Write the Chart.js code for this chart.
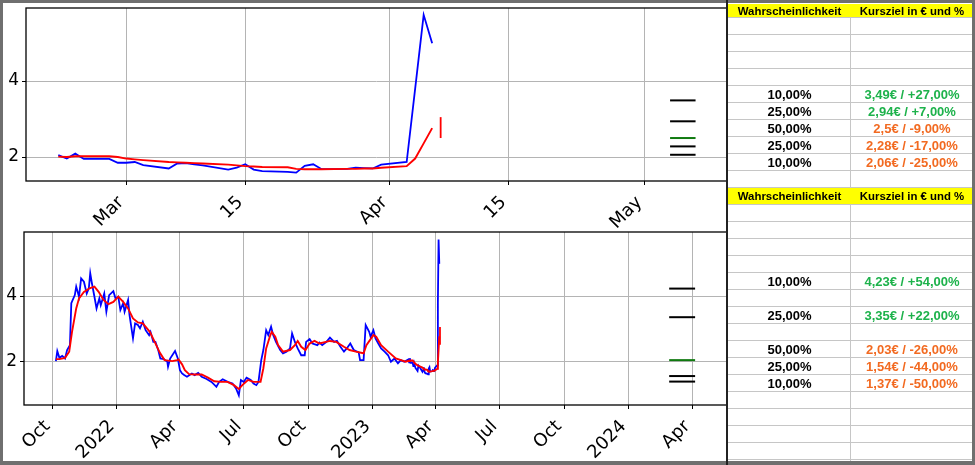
<!DOCTYPE html>
<html>
<head>
<meta charset="utf-8">
<script src="https://cdn.jsdelivr.net/npm/chart.js@4.4.1/dist/chart.umd.min.js"></script>
<style>
html, body { margin: 0; padding: 0; background: #fff; }
#page { position: relative; width: 975px; height: 465px; overflow: hidden; background: #fff; }
canvas { position: absolute; left: 0; }
#topChart { top: 0; }
#bottomChart { top: 228px; }
.bar { position: absolute; background: #6f6f6f; }
#tables { position: absolute; left: 728px; top: 0; width: 245px; height: 465px;
          font-family: 'Liberation Sans', Arial, sans-serif; font-weight: bold; }
.row { position: absolute; left: 0; width: 245px; border-bottom: 1px solid #c6c6c6; box-sizing: border-box; }
.row div { position: absolute; top: 0; height: 100%; display: flex; align-items: center; justify-content: center; white-space: nowrap; }
.c1 { left: 0; width: 123px; }
.c2 { left: 123px; width: 122px; }
.head { background: #ffff00; font-size: 11.4px; color: #000; }
.val { font-size: 13px; color: #000; }
#colLine { position: absolute; left: 122px; top: 4px; width: 1px; height: 457px; background: #c6c6c6; }
</style>
</head>
<body>
<div id="page">
  <canvas id="topChart" width="730" height="228"></canvas>
  <canvas id="bottomChart" width="730" height="237"></canvas>
  <div id="tables"><div id="colLine"></div></div>
  <div class="bar" style="left:0;top:0;width:3px;height:465px"></div>
  <div class="bar" style="left:0;top:0;width:975px;height:3px"></div>
  <div class="bar" style="left:0;top:461px;width:975px;height:4px"></div>
  <div class="bar" style="left:972px;top:0;width:3px;height:465px"></div>
  <div class="bar" style="left:726px;top:0;width:2px;height:465px;background:#222"></div>
</div>
<script>
// ---- data ----

// last weeks (upper chart), also the tail of the lower chart
var recentDates = ['2023-02-21','2023-02-22','2023-02-23','2023-02-24','2023-02-27','2023-02-28',
  '2023-03-01','2023-03-02','2023-03-03','2023-03-06','2023-03-07','2023-03-08','2023-03-09','2023-03-10',
  '2023-03-13','2023-03-14','2023-03-15','2023-03-16','2023-03-17','2023-03-20','2023-03-21','2023-03-22',
  '2023-03-23','2023-03-24','2023-03-27','2023-03-28','2023-03-29','2023-03-30','2023-03-31',
  '2023-04-03','2023-04-04','2023-04-05','2023-04-06'];
var recentPrice = [2.05,1.96,2.09,1.95,1.95,1.85,1.85,1.87,1.79,1.70,1.83,1.84,1.81,1.78,
  1.67,1.72,1.81,1.67,1.63,1.61,1.59,1.77,1.81,1.68,1.69,1.72,1.71,1.70,1.80,1.87,3.80,5.74,4.99];
var recentAvg = [2.01,2.00,2.02,2.02,2.02,2.00,1.96,1.94,1.92,1.87,1.86,1.85,1.84,1.83,
  1.80,1.78,1.76,1.75,1.74,1.73,1.69,1.68,1.68,1.68,1.69,1.69,1.70,1.70,1.72,1.76,1.96,2.36,2.76];

// history before that (lower chart)
var historyDates = ['2021-10-06','2021-10-08','2021-10-11','2021-10-15','2021-10-19','2021-10-22','2021-10-26','2021-10-28',
  '2021-11-02','2021-11-04','2021-11-08','2021-11-11','2021-11-15','2021-11-19','2021-11-22','2021-11-24','2021-11-26','2021-11-30',
  '2021-12-03','2021-12-07','2021-12-09','2021-12-14','2021-12-17','2021-12-21','2021-12-27','2021-12-30',
  '2022-01-03','2022-01-06','2022-01-10','2022-01-12','2022-01-17','2022-01-19','2022-01-24','2022-01-27','2022-01-31',
  '2022-02-03','2022-02-07','2022-02-11','2022-02-16','2022-02-18','2022-02-22','2022-02-25',
  '2022-03-01','2022-03-04','2022-03-09','2022-03-14','2022-03-15','2022-03-18','2022-03-25','2022-03-29',
  '2022-04-01','2022-04-04','2022-04-07','2022-04-11','2022-04-18','2022-04-22','2022-04-27',
  '2022-05-02','2022-05-09','2022-05-16','2022-05-23','2022-05-27',
  '2022-06-01','2022-06-08','2022-06-15','2022-06-20','2022-06-24','2022-06-27',
  '2022-07-01','2022-07-05','2022-07-11','2022-07-15','2022-07-19','2022-07-22','2022-07-26','2022-07-29',
  '2022-08-02','2022-08-05','2022-08-09','2022-08-12','2022-08-16','2022-08-22','2022-08-26','2022-08-31',
  '2022-09-05','2022-09-08','2022-09-12','2022-09-16','2022-09-21','2022-09-26','2022-09-28',
  '2022-10-03','2022-10-07','2022-10-14','2022-10-17','2022-10-21','2022-10-27',
  '2022-11-01','2022-11-07','2022-11-11','2022-11-16','2022-11-21','2022-11-25','2022-11-30',
  '2022-12-05','2022-12-12','2022-12-14','2022-12-19','2022-12-22','2022-12-27','2022-12-29',
  '2023-01-02','2023-01-05','2023-01-09','2023-01-13','2023-01-18','2023-01-23','2023-01-27',
  '2023-02-01','2023-02-06','2023-02-10','2023-02-15'];
var historyPrice = [2.00,2.31,2.10,2.16,2.08,2.34,2.49,3.78,
  4.03,4.29,3.98,4.54,4.44,4.08,4.24,4.70,4.44,3.98,
  3.62,3.93,3.72,4.08,3.52,4.03,4.15,3.93,
  3.98,3.57,3.78,3.52,3.88,3.42,2.70,3.16,3.11,
  3.01,3.21,2.95,2.80,2.90,2.59,2.59,
  2.34,2.08,2.06,1.98,1.83,2.08,2.31,2.08,
  1.72,1.62,1.57,1.52,1.62,1.57,1.64,
  1.52,1.45,1.36,1.21,1.36,
  1.44,1.36,1.31,1.16,0.95,1.42,
  1.36,1.49,1.42,1.31,1.26,1.36,2.03,2.34,
  2.95,2.80,3.06,2.80,2.59,2.34,2.24,2.29,
  2.39,2.85,2.59,2.39,2.18,2.18,2.59,
  2.68,2.54,2.49,2.57,2.49,2.59,
  2.72,2.59,2.62,2.44,2.29,2.39,2.54,
  2.34,2.27,2.03,2.03,3.11,2.90,2.75,
  2.95,2.70,2.54,2.39,2.29,2.18,1.98,
  2.08,1.93,2.03,1.98];

var historyAvgDates = ['2021-10-06','2021-10-11','2021-10-19','2021-10-25','2021-10-29','2021-11-04','2021-11-08',
  '2021-11-15','2021-11-23','2021-11-30','2021-12-06','2021-12-13','2021-12-20','2021-12-27',
  '2022-01-03','2022-01-10','2022-01-17','2022-01-24','2022-01-31','2022-02-07','2022-02-17','2022-02-24',
  '2022-03-03','2022-03-10','2022-03-21','2022-03-28','2022-03-30','2022-04-04','2022-04-08','2022-04-14',
  '2022-04-22','2022-05-02','2022-05-11','2022-05-20','2022-05-30','2022-06-08','2022-06-17','2022-06-24',
  '2022-06-29','2022-07-07','2022-07-15','2022-07-25','2022-07-29','2022-08-02','2022-08-08','2022-08-10',
  '2022-08-15','2022-08-19','2022-08-26','2022-09-05','2022-09-12','2022-09-16','2022-09-21','2022-09-27',
  '2022-10-03','2022-10-10','2022-10-17','2022-11-01','2022-11-10','2022-11-21','2022-11-29','2022-12-08',
  '2022-12-19','2022-12-23','2023-01-02','2023-01-06','2023-01-13','2023-01-23','2023-02-03','2023-02-17'];
var historyAvg = [2.06,2.06,2.10,2.29,2.90,3.62,3.93,
  4.13,4.24,4.29,4.13,3.88,3.75,3.82,
  3.98,3.82,3.62,3.31,3.19,3.16,2.90,2.59,
  2.27,2.03,2.00,2.03,2.05,1.90,1.72,1.60,
  1.59,1.59,1.49,1.38,1.36,1.36,1.26,1.14,
  1.26,1.42,1.36,1.36,1.78,2.39,2.80,2.90,
  2.75,2.49,2.29,2.34,2.49,2.62,2.44,2.34,
  2.54,2.62,2.54,2.62,2.59,2.44,2.34,2.29,
  2.24,2.49,2.80,2.75,2.49,2.29,2.08,1.98];

// red day range marker
var markerDate = '2023-04-07';
var markerRange = [2.5, 3.05];

// scenarios
var probabilities = ['10,00%','25,00%','50,00%','25,00%','10,00%'];
var topTargets = [3.49, 2.94, 2.5, 2.28, 2.06];
var topChanges = [27, 7, -9, -17, -25];
var bottomTargets = [4.23, 3.35, 2.03, 1.54, 1.37];
var bottomChanges = [54, 22, -26, -44, -50];
var topTargetSpan = ['2023-05-04', '2023-05-07'];
var bottomTargetSpan = ['2024-02-28', '2024-04-05'];

// table row layout: index into scenarios, or null for an empty row
var topRows = [null, null, null, null, 0, 1, 2, 3, 4, null];
var bottomRows = [null, null, null, null, 0, null, 1, null, 2, 3, 4, null, null, null, null];

// axes
var topTickDates = ['2023-03-01','2023-03-15','2023-04-01','2023-04-15','2023-05-01'];
var topTickLabels = ['Mar','15','Apr','15','May'];
var bottomTickDates = ['2021-10-01','2022-01-01','2022-04-01','2022-07-01','2022-10-01','2023-01-01',
  '2023-04-01','2023-07-01','2023-10-01','2024-01-01','2024-04-01'];
var bottomTickLabels = ['Oct','2022','Apr','Jul','Oct','2023','Apr','Jul','Oct','2024','Apr'];
var yTicks = [2, 4];

// ---- helpers ----
function day(s) {
    var p = s.split('-').map(Number);
    return Date.UTC(p[0], p[1] - 1, p[2]) / 86400000;
}
function pts(dates, vals) {
    return dates.map(function (d, i) { return { x: day(d), y: vals[i] }; });
}
function fmtNum(v) { return String(v).replace('.', ','); }
function fmtPct(v) { return (v > 0 ? '+' : '') + v.toFixed(2).replace('.', ',') + '%'; }
function noPad(s) { s.paddingTop = 0; s.paddingBottom = 0; s.paddingLeft = 0; s.paddingRight = 0; }

var boxPlugin = {
    id: 'box',
    afterDraw: function (chart) {
        var a = chart.chartArea, c = chart.ctx;
        c.save();
        c.strokeStyle = '#000';
        c.lineWidth = 1.3;
        c.strokeRect(a.left, a.top, a.right - a.left, a.bottom - a.top);
        c.restore();
    }
};

function makeChart(id, o) {
    var datasets = [];
    datasets.push({ data: pts(o.avgDates, o.avgVals), borderColor: '#ff0000', borderWidth: 1.9, order: 0 });
    datasets.push({ data: pts(o.priceDates, o.priceVals), borderColor: '#0000ff', borderWidth: 1.8, order: 1 });
    datasets.push({ data: [{ x: day(markerDate), y: markerRange[0] }, { x: day(markerDate), y: markerRange[1] }],
                    borderColor: '#ff0000', borderWidth: 1.8, order: 0 });
    for (var i = 0; i < o.targets.length; i++) {
        datasets.push({
            data: [{ x: day(o.span[0]), y: o.targets[i] }, { x: day(o.span[1]), y: o.targets[i] }],
            borderColor: i == 2 ? '#107a10' : '#000000', borderWidth: 2, order: 2
        });
    }
    var yFont = { family: 'DejaVu Sans', size: 17 };
    var xFont = { family: 'DejaVu Sans', size: 18 };
    return new Chart(document.getElementById(id), {
        type: 'line',
        data: { datasets: datasets },
        plugins: [boxPlugin],
        options: {
            responsive: false, animation: false, devicePixelRatio: 1,
            layout: { padding: { top: o.padTop, right: 3, left: 0, bottom: 0 } },
            elements: { point: { radius: 0 }, line: { tension: 0 } },
            plugins: { legend: { display: false }, tooltip: { enabled: false } },
            scales: {
                x: {
                    type: 'linear', min: o.xMin, max: o.xMax,
                    afterBuildTicks: function (s) {
                        s.ticks = o.tickDates.map(function (d) { return { value: day(d) }; });
                    },
                    afterFit: function (s) { s.height = o.xHeight; noPad(s); },
                    ticks: {
                        autoSkip: false, maxRotation: 45, minRotation: 45, padding: 7, labelOffset: -5,
                        font: xFont, color: '#000',
                        callback: function (v) {
                            var k = o.tickDates.findIndex(function (d) { return day(d) == v; });
                            return k < 0 ? '' : o.tickLabels[k];
                        }
                    },
                    grid: { color: '#b4b4b4', lineWidth: 1, tickLength: 4, tickColor: '#000' },
                    border: { display: false }
                },
                y: {
                    min: o.yMin, max: o.yMax,
                    afterBuildTicks: function (s) {
                        s.ticks = yTicks.map(function (v) { return { value: v }; });
                    },
                    afterFit: function (s) { s.width = o.yWidth; noPad(s); },
                    ticks: { padding: 3, font: yFont, color: '#000', callback: function (v) { return String(v); } },
                    grid: { color: '#b4b4b4', lineWidth: 1, tickLength: 4, tickColor: '#000' },
                    border: { display: false }
                }
            }
        }
    });
}

makeChart('topChart', {
    priceDates: recentDates, priceVals: recentPrice,
    avgDates: recentDates, avgVals: recentAvg,
    xMin: day('2023-03-01') - 11.8, xMax: day('2023-05-01') + 9.7,
    yMin: 1.37, yMax: 5.92,
    tickDates: topTickDates, tickLabels: topTickLabels,
    targets: topTargets, span: topTargetSpan,
    padTop: 8, yWidth: 26, xHeight: 47
});

makeChart('bottomChart', {
    priceDates: historyDates.concat(recentDates), priceVals: historyPrice.concat(recentPrice),
    avgDates: historyAvgDates.concat(recentDates), avgVals: historyAvg.concat(recentAvg),
    xMin: day('2021-10-01') - 40.5, xMax: day('2024-04-01') + 49.5,
    yMin: 0.65, yMax: 5.97,
    tickDates: bottomTickDates, tickLabels: bottomTickLabels,
    targets: bottomTargets, span: bottomTargetSpan,
    padTop: 4, yWidth: 24, xHeight: 60
});

// ---- tables ----
function buildTable(host, top, headH, rowH, rows, targets, changes) {
    var html = '<div class="row head" style="top:' + top + 'px;height:' + headH + 'px">' +
        '<div class="c1">Wahrscheinlichkeit</div><div class="c2">Kursziel in € und %</div></div>';
    var y = top + headH;
    rows.forEach(function (k) {
        html += '<div class="row val" style="top:' + y + 'px;height:' + rowH + 'px">';
        if (k !== null) {
            var col = changes[k] > 0 ? '#1db24b' : '#f26a21';
            html += '<div class="c1">' + probabilities[k] + '</div>' +
                '<div class="c2" style="color:' + col + '">' + fmtNum(targets[k]) + '€ / ' + fmtPct(changes[k]) + '</div>';
        }
        html += '</div>';
        y += rowH;
    });
    host.insertAdjacentHTML('beforeend', html);
}

var tables = document.getElementById('tables');
buildTable(tables, 4, 14, 17, topRows, topTargets, topChanges);
buildTable(tables, 188, 17, 17, bottomRows, bottomTargets, bottomChanges);
</script>
</body>
</html>
